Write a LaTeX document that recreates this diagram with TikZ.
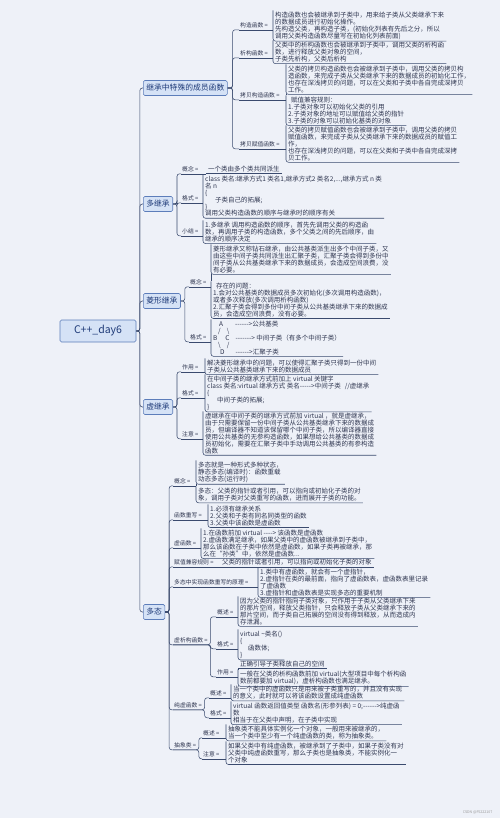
\documentclass[tikz,border=0pt]{standalone}
\usepackage{fontspec}
\newfontfamily\cjk{Noto Sans CJK SC}[Ligatures=TeXOff]
\usetikzlibrary{calc}
\definecolor{bg}{HTML}{EEF1F8}
\definecolor{linec}{HTML}{3A4A6E}
\definecolor{txt}{HTML}{2F3650}
\definecolor{boxfill}{HTML}{D5E2F6}
\definecolor{boxdraw}{HTML}{5C7DBA}
\definecolor{boxtxt}{HTML}{1E3A78}
\newcommand{\mmBr}[1]{\draw[conn] (#1.north west) |- (#1.south east);}
\newcommand{\mmUl}[1]{\draw[conn] (#1.south west) -- (#1.south east);}
\newcommand{\mmLk}[2]{\draw[conn] (#1.south west) -- (#1.south -| #2.west);}
\begin{document}
\begin{tikzpicture}[x=1pt,y=-1pt,
  conn/.style={draw=linec,line width=0.55pt,rounded corners=2.5pt},
  branch/.style={draw=boxdraw,fill=boxfill,rounded corners=1.5pt,line width=0.6pt,
    font=\cjk\fontsize{7.8}{9}\selectfont,text=boxtxt,inner xsep=3pt,minimum height=15pt,anchor=west},
  lab/.style={font=\cjk\fontsize{5.8}{6.5}\selectfont,text=txt,inner xsep=1pt,inner ysep=1.5pt,
    text height=5.1pt,text depth=0.9pt,anchor=base west},
  blk/.style={font=\cjk\fontsize{6.5}{6.9}\selectfont,text=txt,align=left,inner xsep=2pt,
    inner ysep=1.5pt,anchor=north west},
]
\useasboundingbox (0,0) rectangle (500,818);
\fill[bg] (0,0) rectangle (500,818);

% root and branches
\node[draw=boxdraw,fill=boxfill,rounded corners=1.5pt,line width=0.7pt,minimum width=76pt,
  minimum height=22pt,font=\cjk\fontsize{10.5}{12}\selectfont,text=boxtxt] (root) at (98,331) {C++\_day6};
\node[branch] (b1) at (143,88) {继承中特殊的成员函数};
\node[branch] (b2) at (143,204) {多继承};
\node[branch] (b3) at (143,301) {菱形继承};
\node[branch] (b4) at (143,407) {虚继承};
\node[branch] (b5) at (143,612) {多态};
\coordinate (rv) at ($(root.east)+(3.5,0)$);
\foreach \b in {b1,b2,b3,b4,b5} \draw[conn] (root.east) -- (rv) |- (\b.west);

% ---------- b1
\node[lab] (l11) at (239,27.2) {构造函数 =};
\node[lab] (l12) at (239,55.2) {析构函数 =};
\node[lab] (l13) at (239,97.2) {拷贝构造函数 =};
\node[lab] (l14) at (239,146.2) {拷贝赋值函数 =};
\node[blk] (t11) at (273,10.3) {构造函数也会被继承到子类中，用来给子类从父类继承下来\\的数据成员进行初始化操作。\\先构造父类，再构造子类，(初始化列表有先后之分，所以\\调用父类构造函数尽量写在初始化列表前面)};
\node[blk] (t12) at (273,40.3) {父类中的析构函数也会被继承到子类中，调用父类的析构函\\数，进行释放父类对象的空间，\\子类先析构，父类后析构};
\node[blk] (t13a) at (286,64.3) {父类的拷贝构造函数也会被继承到子类中，调用父类的拷贝构\\造函数，来完成子类从父类继承下来的数据成员的初始化工作，\\也存在深浅拷贝的问题，可以在父类和子类中各自完成深拷贝\\工作。};
\node[blk] (t13b) at (286,95.3) {\hspace*{3pt}赋值兼容规则：\\1.子类对象可以初始化父类的引用\\2.子类对象的地址可以赋值给父类的指针\\3.子类的对象可以初始化基类的对象};
\node[blk] (t14) at (286,125.3) {父类的拷贝赋值函数也会被继承到子类中，调用父类的拷贝\\赋值函数，来完成子类从父类继承下来的数据成员的赋值工\\作，\\也存在深浅拷贝的问题，可以在父类和子类中各自完成深拷\\贝工作。};
\coordinate (b1v) at ($(b1.east)+(5,0)$);
\foreach \l in {l11,l12,l13,l14} \draw[conn] (b1.east) -- (b1v) |- (\l.south west);
\mmBr{t11}\mmBr{t12}\mmBr{t13a}\mmBr{t13b}\mmBr{t14}
\draw[conn] (t13a.south west) -- (t13b.north west);
\mmLk{l11}{t11}\mmLk{l12}{t12}\mmLk{l13}{t13b}\mmLk{l14}{t14}

% ---------- b2
\node[lab] (l21) at (181,171.2) {概念 =};
\node[lab] (l22) at (181,200.2) {格式 =};
\node[lab] (l23) at (181,233.2) {小结 =};
\node[blk] (t21) at (206,164.3) {一个类由多个类共同派生};
\node[blk] (t22) at (203,174.3) {class 类名:继承方式1 类名1,继承方式2 类名2,...,继承方式 n 类\\名 n\\\{\\\hspace*{10pt}子类自己的拓展;\\\}\\调用父类构造函数的顺序与继承时的顺序有关};
\node[blk] (t23) at (203,220.3) {1.多继承 调用构造函数的顺序，首先先调用父类的构造函\\数，再调用子类的构造函数，多个父类之间的先后顺序，由\\继承的顺序决定};
\coordinate (b2v) at ($(b2.east)+(4,0)$);
\foreach \l in {l21,l22,l23} \draw[conn] (b2.east) -- (b2v) |- (\l.south west);
\mmUl{t21}\mmBr{t22}\mmBr{t23}
\mmLk{l21}{t21}\mmLk{l22}{t22}\mmLk{l23}{t23}

% ---------- b3
\node[lab] (l31) at (189,284.2) {概念 =};
\node[lab] (l32) at (189,339.2) {格式 =};
\node[blk] (t31a) at (211,244.3) {菱形继承又称钻石继承，由公共基类派生出多个中间子类，又\\由这些中间子类共同派生出汇聚子类，汇聚子类会得到多份中\\间子类从公共基类继承下来的数据成员，会造成空间浪费，没\\有必要。};
\node[blk] (t31b) at (211,281.3) {\hspace*{3pt}存在的问题：\\1.会对公共基类的数据成员多次初始化(多次调用构造函数)，\\或者多次释放(多次调用析构函数)\\2.汇聚子类会得到多份中间子类从公共基类继承下来的数据成\\员，会造成空间浪费，没有必要。};
\node[blk] (t32) at (211,319.3) {\hspace*{6pt}A\hspace*{12pt}------>公共基类\\\hspace*{5pt}/\hspace*{6pt}\textbackslash\\B\hspace*{8pt}C\hspace*{6pt}-------> 中间子类（有多个中间子类）\\\hspace*{5pt}\textbackslash\hspace*{6pt}/\\\hspace*{7pt}D\hspace*{11pt}------>汇聚子类};
\coordinate (b3v) at ($(b3.east)+(4,0)$);
\foreach \l in {l31,l32} \draw[conn] (b3.east) -- (b3v) |- (\l.south west);
\mmBr{t31a}\mmBr{t31b}\mmBr{t32}
\draw[conn] (t31a.south west) -- (t31b.north west);
\mmLk{l31}{t31b}\mmLk{l32}{t32}

% ---------- b4
\node[lab] (l41) at (181,369.2) {作用 =};
\node[lab] (l42) at (181,395.2) {格式 =};
\node[lab] (l43) at (181,436.2) {注意 =};
\node[blk] (t41) at (205,358.3) {解决菱形继承中的问题，可以使得汇聚子类只得到一份中间\\子类从公共基类继承下来的数据成员};
\node[blk] (t42) at (205,374.3) {在中间子类的继承方式前加上 virtual 关键字\\class 类名:virtual 继承方式 类名----->中间子类\hspace*{4pt}//虚继承\\\{\\\hspace*{10pt}中间子类的拓展;\\\}};
\node[blk] (t43) at (203,411.3) {虚继承在中间子类的继承方式前加 virtual ，就是虚继承，\\由于只需要保留一份中间子类从公共基类继承下来的数据成\\员，但编译器不知道该保留哪个中间子类，所以编译器直接\\使用公共基类的无参构造函数，如果想给公共基类的数据成\\员初始化，需要在汇聚子类中手动调用公共基类的有参构造\\函数};
\coordinate (b4v) at ($(b4.east)+(4,0)$);
\foreach \l in {l41,l42,l43} \draw[conn] (b4.east) -- (b4v) |- (\l.south west);
\mmBr{t41}\mmBr{t42}\mmBr{t43}
\mmLk{l41}{t41}\mmLk{l42}{t42}\mmLk{l43}{t43}

% ---------- b5
\node[lab] (l51) at (173,483.2) {概念 =};
\node[lab] (l52) at (173,517.2) {函数重写 =};
\node[lab] (l53) at (173,545.2) {虚函数 =};
\node[lab] (l54) at (173,564.2) {赋值兼容规则 =};
\node[lab] (l55) at (173,584.2) {多态中实现函数重写的原理 =};
\node[lab] (l56) at (173,642.2) {虚析构函数 =};
\node[lab] (l57) at (173,707.2) {纯虚函数 =};
\node[lab] (l58) at (173,747.2) {抽象类 =};
\node[blk] (t51a) at (196,460.3) {多态就是一种形式多种状态，\\静态多态(编译时)：函数重载\\动态多态(运行时)};
\node[blk] (t51b) at (196,486.3) {多态：父类的指针或者引用，可以指向或初始化子类的对\\象，调用子类对父类重写的函数，进而展开子类的功能。};
\node[blk] (t52) at (208,504.3) {1.必须有继承关系\\2.父类和子类有同名同类型的函数\\3.父类中该函数是虚函数};
\node[blk] (t53) at (201,528.3) {1.在函数前加 virtual ----> 该函数是虚函数\\2.虚函数满足继承，如果父类中的虚函数被继承到子类中，\\那么该函数在子类中依然是虚函数，如果子类再被继承，那\\么在“孙类”中，依然是虚函数...};
\node[blk] (t54) at (220,557.3) {父类的指针或者引用，可以指向或初始化子类的对象};
\node[blk] (t55) at (258,567.3) {1.类中有虚函数，就会有一个虚指针，\\2.虚指针在类的最前面，指向了虚函数表，虚函数表里记录\\了虚函数\\3.虚指针和虚函数表是实现多态的重要机制};
\coordinate (b5v) at ($(b5.east)+(4,0)$);
\foreach \l in {l51,l52,l53,l54,l55,l56,l57,l58} \draw[conn] (b5.east) -- (b5v) |- (\l.south west);
\mmBr{t51a}\mmBr{t51b}\mmBr{t52}\mmBr{t53}\mmUl{t54}\mmBr{t55}
\draw[conn] (t51a.south west) -- (t51b.north west);
\mmLk{l51}{t51b}\mmLk{l52}{t52}\mmLk{l53}{t53}\mmLk{l54}{t54}\mmLk{l55}{t55}

% 虚析构函数
\node[lab] (l561) at (216,614.2) {概述 =};
\node[lab] (l562) at (216,646.2) {格式 =};
\node[lab] (l563) at (216,674.2) {作用 =};
\node[blk] (t561) at (238,596.3) {因为父类的指针指向子类对象，只作用于子类从父类继承下来\\的那片空间，释放父类指针，只会释放子类从父类继承下来的\\那片空间，而子类自己拓展的空间没有得到释放，从而造成内\\存泄漏。};
\node[blk] (t562) at (238,629.3) {virtual \textasciitilde 类名()\\\{\\\hspace*{8pt}函数体;\\\}};
\node[blk] (t563a) at (238,659.3) {正确引导子类释放自己的空间};
\node[blk] (t563b) at (238,669.3) {一般在父类的析构函数前加 virtual(大型项目中每个析构函\\数前都要加 virtual)，虚析构函数也满足继承。};
\coordinate (l56v) at ($(l56.south east)+(1.5,0)$);
\foreach \l in {l561,l562,l563} \draw[conn] (l56.south west) -- (l56v) |- (\l.south west);
\mmBr{t561}\mmBr{t562}\mmUl{t563a}\mmBr{t563b}
\draw[conn] (t563a.south west) -- (t563b.north west);
\mmLk{l561}{t561}\mmLk{l562}{t562}\mmLk{l563}{t563b}

% 纯虚函数
\node[lab] (l571) at (209,695.2) {概述 =};
\node[lab] (l572) at (209,715.2) {格式 =};
\node[blk] (t571) at (231,684.3) {当一个类中的虚函数只是用来被子类重写的，并且没有实现\\的意义，此时就可以将该函数设置成纯虚函数};
\node[blk] (t572) at (231,701.3) {virtual 函数返回值类型 函数名(形参列表) = 0;------>纯虚函\\数\\相当于在父类中声明，在子类中实现};
\coordinate (l57v) at ($(l57.south east)+(1.5,0)$);
\foreach \l in {l571,l572} \draw[conn] (l57.south west) -- (l57v) |- (\l.south west);
\mmBr{t571}\mmBr{t572}
\mmLk{l571}{t571}\mmLk{l572}{t572}

% 抽象类
\node[lab] (l581) at (202,735.2) {概述 =};
\node[lab] (l582) at (202,756.2) {注意 =};
\node[blk] (t581) at (226,724.3) {抽象类不能具体实例化一个对象，一般用来被继承的，\\当一个类中至少有一个纯虚函数的类，称为抽象类。};
\node[blk] (t582) at (226,741.3) {如果父类中有纯虚函数，被继承到了子类中，如果子类没有对\\父类中纯虚函数重写，那么子类也是抽象类，不能实例化一\\个对象};
\coordinate (l58v) at ($(l58.south east)+(1.5,0)$);
\foreach \l in {l581,l582} \draw[conn] (l58.south west) -- (l58v) |- (\l.south west);
\mmBr{t581}\mmBr{t582}
\mmLk{l581}{t581}\mmLk{l582}{t582}

\node[font=\cjk\fontsize{3.6}{4}\selectfont,text=black!40,anchor=east] (wm) at (496,812) {CSDN @F5222107};
\end{tikzpicture}
\end{document}
